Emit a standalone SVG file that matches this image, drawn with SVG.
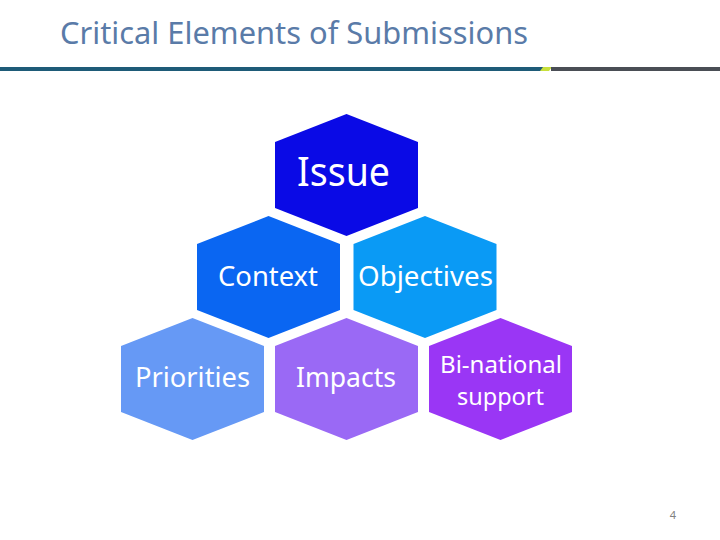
<svg xmlns="http://www.w3.org/2000/svg" width="720" height="540" viewBox="0 0 720 540">
<defs>
<style>
.hex{stroke:none}
.lbl{font-family:"Noto Sans","Open Sans",sans-serif;fill:#ffffff;text-anchor:middle}
</style>
<polygon id="hexshape" points="0,-61 71.5,-33 71.5,33 0,61 -71.5,33 -71.5,-33"/>
</defs>
<rect width="720" height="540" fill="#ffffff"/>
<g id="header">
<text x="60" y="44" font-family="Noto Sans, Open Sans, sans-serif" font-size="30" fill="#5A7BA8" textLength="468" lengthAdjust="spacingAndGlyphs">Critical Elements of Submissions</text>
<rect x="0" y="67" width="543" height="4" fill="#1E5B78"/>
<polygon points="543,67 552,67 549,71 540,71" fill="#C8E03C"/>
<rect x="551" y="67" width="169" height="4" fill="#4A4E55"/>
</g>
<g id="connectors"></g>
<g id="issue">
<use href="#hexshape" x="346.5" y="175" fill="#0A0AE6"/>
<text class="lbl" x="343.5" y="186" font-size="40" textLength="93" lengthAdjust="spacingAndGlyphs">Issue</text>
</g>
<g id="context">
<use href="#hexshape" x="268.5" y="277" fill="#0A66F2"/>
<text class="lbl" x="268" y="286" font-size="28" textLength="100" lengthAdjust="spacingAndGlyphs">Context</text>
</g>
<g id="objectives">
<use href="#hexshape" x="425" y="277" fill="#0A9AF5"/>
<text class="lbl" x="425.5" y="286" font-size="28" textLength="135" lengthAdjust="spacingAndGlyphs">Objectives</text>
</g>
<g id="priorities">
<use href="#hexshape" x="192.5" y="379" fill="#6699F5"/>
<text class="lbl" x="192.5" y="387" font-size="28" textLength="115" lengthAdjust="spacingAndGlyphs">Priorities</text>
</g>
<g id="impacts">
<use href="#hexshape" x="346.5" y="379" fill="#9A69F5"/>
<text class="lbl" x="346" y="387" font-size="28" textLength="100" lengthAdjust="spacingAndGlyphs">Impacts</text>
</g>
<g id="binational">
<use href="#hexshape" x="500.5" y="379" fill="#9A36F5"/>
<text class="lbl" x="501" y="373" font-size="24" textLength="122" lengthAdjust="spacingAndGlyphs">Bi-national</text>
<text class="lbl" x="500.5" y="405" font-size="24" textLength="87" lengthAdjust="spacingAndGlyphs">support</text>
</g>
<text x="673" y="519" font-family="Noto Sans, sans-serif" font-size="11" fill="#808080" text-anchor="middle">4</text>
</svg>
